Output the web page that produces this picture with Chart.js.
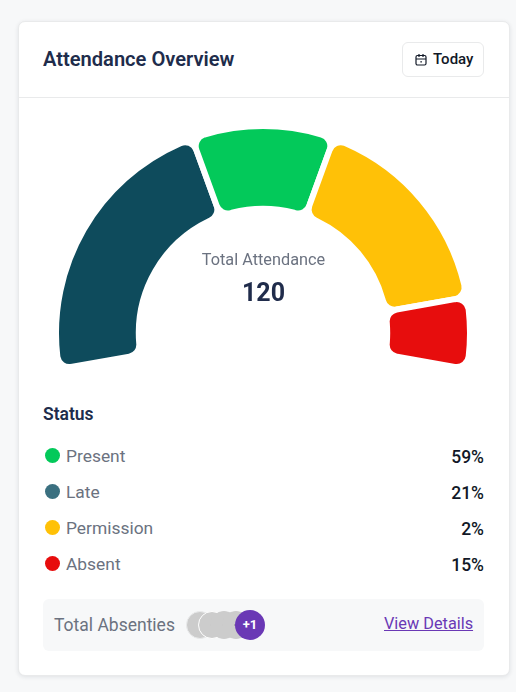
<!DOCTYPE html>
<html><head><meta charset="utf-8">
<script src="https://cdn.jsdelivr.net/npm/chart.js@4"></script>
<style>
*{box-sizing:border-box}
html,body{margin:0;padding:0}
body{width:516px;height:692px;background:#f7f8f9;font-family:Roboto,sans-serif;position:relative;overflow:hidden}
.abs{position:absolute;white-space:nowrap}
#card{left:18px;top:21px;width:492px;height:655px;background:#fff;border:1px solid #e9eaeb;border-radius:7px;box-shadow:0 1px 4px rgba(20,30,50,.10)}
#rule{left:18px;top:97px;width:492px;height:1px;background:#e9eaeb}
#title{left:43px;top:47px;font-size:20.1px;line-height:24px;font-weight:600;color:#202c4b}
#btn{left:402px;top:42px;width:82px;height:35px;border:1px solid #e9eaeb;border-radius:6px;background:#fff}
#btn svg{position:absolute;left:11px;top:10px}
#btn span{position:absolute;left:30px;top:6px;font-size:15px;line-height:20px;font-weight:500;color:#111827}
#wrap{left:42.5px;top:127px;width:440px;height:241px}
#centerA{left:43px;width:441px;top:249.5px;text-align:center;font-size:16.3px;line-height:20px;color:#6b7280}
#centerB{left:43px;width:441px;top:277px;text-align:center;font-size:25px;line-height:32px;font-weight:700;color:#202c4b}
#status{left:43px;top:404px;font-size:17.5px;line-height:20px;font-weight:600;color:#202c4b}
.dot{position:absolute;left:45px;width:15px;height:15px;border-radius:50%}
.lab{position:absolute;left:66px;font-size:17.4px;line-height:22px;color:#6b7280;white-space:nowrap}
.val{position:absolute;right:32px;font-size:17.5px;line-height:22px;font-weight:500;color:#111827}
#foot{left:43px;top:599px;width:441px;height:52px;background:#f7f8f9;border-radius:6px}
#fl{left:54px;top:614px;font-size:17.5px;line-height:22px;color:#6b7280}
.av{position:absolute;top:611px;width:28px;height:28px;border-radius:50%;background:#cccccc;border:1px solid #cccccc}
.av i{position:absolute;left:11px;top:12px;width:4px;height:2px;background:#aaa}
#plus{left:235px;top:610px;width:30px;height:30px;border-radius:50%;background:#6a38b5;color:#fff;font-size:13px;line-height:30px;font-weight:700;text-align:center}
#link{left:384px;top:613px;font-size:16.3px;line-height:22px;color:#6a38b5;text-decoration:underline}
</style></head><body>
<div id="card" class="abs"></div>
<div id="rule" class="abs"></div>
<div id="title" class="abs">Attendance Overview</div>
<div id="btn" class="abs"><svg width="14" height="14" viewBox="0 0 14 14" fill="none" stroke="#111827" stroke-width="1.2"><rect x="2" y="2.5" width="10" height="9.5" rx="1.5"/><path d="M2 6h10M5 1v3M9 1v3"/><rect x="6.5" y="8" width="1.2" height="1.6" fill="#111827" stroke="none"/></svg><span>Today</span></div>
<div id="wrap" class="abs"><canvas id="c" width="440" height="241"></canvas></div>
<div id="centerA" class="abs">Total Attendance</div>
<div id="centerB" class="abs">120</div>
<div id="status" class="abs">Status</div>
<div id="list"></div>
<div id="foot" class="abs"></div>
<div id="fl" class="abs">Total Absenties</div>
<div class="av" style="left:186px;border-color:#e9eaeb"><i></i></div>
<div class="av" style="left:198px;border-color:#fff"><i></i></div>
<div class="av" style="left:210px"><i></i></div>
<div class="av" style="left:222px"><i></i></div>
<div id="plus" class="abs">+1</div>
<div id="link" class="abs">View Details</div>
<script>
const arcLabels = ['Late','Present','Permission','Absent'];
const arcValues = [20,10,15,5];
const arcColors = ['#0e4b5c','#03c95a','#ffc107','#e70d0d'];
const statusNames = ['Present','Late','Permission','Absent'];
const statusPercents = ['59%','21%','2%','15%'];
const statusColors = ['#03c95a','#3b7080','#ffc107','#e70d0d'];
const statusTops = [449,485,521,557];

const list = document.getElementById('list');
statusNames.forEach((n,i)=>{
  const y = statusTops[i];
  list.insertAdjacentHTML('beforeend',
    `<div class="dot" style="top:${y-1}px;background:${statusColors[i]}"></div>`+
    `<div class="lab" style="top:${y-4}px">${n}</div>`+
    `<div class="val" style="top:${y-3}px">${statusPercents[i]}</div>`);
});

new Chart(document.getElementById('c'),{
  type:'doughnut',
  data:{labels:arcLabels,datasets:[{data:arcValues,backgroundColor:arcColors,borderColor:'#ffffff',borderWidth:6,borderRadius:12,hoverOffset:0}]},
  options:{
    responsive:false,animation:false,
    rotation:-100,circumference:200,cutout:'60%',radius:207,
    layout:{padding:0},
    plugins:{legend:{display:false},tooltip:{enabled:false}}
  }
});
</script>
</body></html>
